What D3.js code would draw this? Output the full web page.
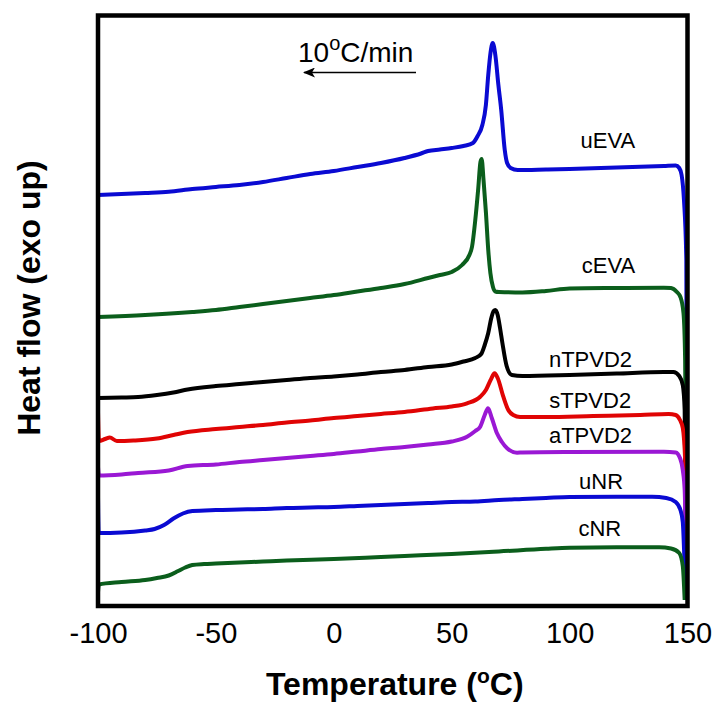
<!DOCTYPE html>
<html>
<head>
<meta charset="utf-8">
<script src="https://cdn.jsdelivr.net/npm/d3@7"></script>
<style>
  html, body { margin: 0; padding: 0; background: #fff; }
  svg text { font-family: "Liberation Sans", Arial, sans-serif; }
</style>
</head>
<body>
<div id="chart"></div>
<script>
// temperature ticks (deg C)
var xTicks = [-100, -50, 0, 50, 100, 150];

// heat flow curves, [temperature, heat flow (a.u., offset stacked)]
var uEVA = [[-100,41.1],[-80,41.3],[-70,41.43],[-60,41.7],[-50,41.9],[-40,42.1],[-30,42.4],[-20,42.8],[-10,43.2],[0,43.5],[10,43.9],[20,44.3],[30,44.8],[37,45.25],[40,45.5],[45,45.65],[50,45.8],[55,46.0],[59,46.3],[61,47.0],[63,48.1],[64.5,50.1],[65.5,53.1],[66.5,55.4],[67.4,56.3],[68.5,55.1],[69.8,52.1],[71,49.6],[72.5,45.6],[73.5,44.3],[75,43.8],[78,43.6],[90,43.65],[100,43.7],[120,43.85],[140,44.0],[145,44.05],[146.5,43.8],[147.5,43.1],[148.5,40.6],[149.5,34.6],[149.9,0.6]];
var cEVA = [[-100,28.9],[-80,29.1],[-60,29.4],[-50,29.6],[-40,29.9],[-30,30.2],[-20,30.5],[-10,30.8],[0,31.1],[10,31.45],[20,31.8],[30,32.2],[40,32.8],[45,33.1],[50,33.4],[54.4,34.1],[57.5,35.1],[58.6,35.9],[60,38.6],[61.2,41.6],[62.2,44.4],[62.7,44.7],[63.5,42.6],[64.5,39.4],[65.5,35.6],[66.4,33.3],[67.5,31.9],[68.5,31.45],[70,31.4],[80,31.35],[90,31.5],[100,31.75],[120,31.8],[140,31.83],[143,31.8],[145.5,31.4],[147,30.9],[148.3,29.3],[149,24.6],[149.8,0.6]];
var nTPVD2 = [[-100,20.8],[-90,20.85],[-83,20.9],[-75,21.1],[-68,21.35],[-62,21.65],[-50,22.0],[-40,22.2],[-30,22.4],[-20,22.6],[-10,22.8],[0,22.95],[10,23.15],[20,23.4],[30,23.6],[40,23.9],[50,24.15],[55,24.45],[60,24.8],[62.5,25.2],[64,26.1],[65.5,27.3],[66.8,28.8],[67.8,29.5],[68.5,29.6],[69.5,29.1],[70.5,27.8],[71.5,26.3],[73.3,24.0],[75.5,23.1],[80,23.0],[100,23.1],[120,23.25],[140,23.4],[144,23.4],[146.5,23.0],[148,22.1],[148.8,19.6],[149.5,0.6]];
var sTPVD2 = [[-100,19.4],[-99.6,16.5],[-97,16.7],[-95,16.85],[-92,16.5],[-85,16.55],[-75,16.75],[-68,17.1],[-62,17.4],[-50,17.7],[-40,17.9],[-30,18.1],[-20,18.35],[-10,18.55],[0,18.8],[10,19.0],[20,19.2],[30,19.4],[42,19.75],[50,19.95],[56.5,20.27],[62.1,20.93],[64.5,21.6],[66.5,22.6],[68.2,23.27],[69.5,22.8],[71.9,20.93],[74,19.6],[76.1,19.1],[79,18.9],[90,18.9],[110,19.0],[130,19.1],[142,19.2],[145,19.1],[146.8,18.6],[148,17.8],[149,14.6],[149.8,0.6]];
var aTPVD2 = [[-100,13.9],[-99.6,13.05],[-90,13.15],[-83,13.3],[-70,13.55],[-62,14.0],[-50,14.15],[-40,14.4],[-30,14.6],[-20,14.8],[-10,15.0],[0,15.2],[10,15.45],[20,15.7],[30,15.9],[40,16.15],[50,16.45],[56.5,16.93],[60,17.5],[62.1,17.93],[64,19.1],[65.4,19.77],[67,18.8],[69.2,17.27],[71.3,16.4],[73.5,15.77],[77.7,15.33],[80,15.35],[100,15.4],[140,15.43],[145,15.35],[146.8,14.8],[148,13.6],[148.8,11.6],[149.6,0.6]];
var uNR = [[-100,10.9],[-99.7,7.3],[-90,7.35],[-80,7.55],[-76,7.7],[-72,8.1],[-68,8.75],[-64,9.25],[-60,9.5],[-50,9.6],[-40,9.65],[-30,9.7],[-20,9.8],[-10,9.85],[0,9.9],[10,10.0],[20,10.1],[30,10.2],[40,10.3],[50,10.4],[60,10.45],[70,10.6],[80,10.7],[90,10.8],[100,10.9],[120,10.92],[135,10.92],[141,10.8],[145,10.4],[147,9.6],[148,8.4],[148.7,4.6],[149.3,0.6]];
var cNR = [[-100,1.4],[-99.6,2.15],[-90,2.4],[-80,2.6],[-75,2.8],[-70,3.05],[-66,3.5],[-63,3.85],[-60,4.1],[-55,4.2],[-50,4.25],[-40,4.35],[-30,4.45],[-20,4.55],[0,4.7],[20,4.9],[30,5.0],[50,5.2],[70,5.45],[90,5.72],[100,5.82],[120,5.87],[138,5.87],[143,5.75],[146.5,5.3],[148,4.0],[148.8,0.6]];

var series = [
  { name: "uEVA",   values: uEVA,   color: "#0a0ad2" },
  { name: "cEVA",   values: cEVA,   color: "#0b5e1c" },
  { name: "nTPVD2", values: nTPVD2, color: "#000000" },
  { name: "sTPVD2", values: sTPVD2, color: "#e00404" },
  { name: "aTPVD2", values: aTPVD2, color: "#9a18d4" },
  { name: "uNR",    values: uNR,    color: "#0a0ad2" },
  { name: "cNR",    values: cNR,    color: "#0b5e1c" }
];

// label anchors: text end temperature, baseline heat flow
var labelT = [127.8, 127.8, 126.5, 126.1, 126.5, 122.7, 121.9];
var labelV = [45.8, 33.3, 23.9, 19.8, 16.3, 11.7, 7.0];

var width = 715, height = 704;
var margin = { top: 15.5, right: 27.5, bottom: 98, left: 98 };
var w = width - margin.left - margin.right;
var h = height - margin.top - margin.bottom;

var svg = d3.select("#chart").append("svg")
    .attr("width", width).attr("height", height);
var g = svg.append("g")
    .attr("transform", "translate(" + margin.left + "," + margin.top + ")");

var x = d3.scaleLinear().domain([-100, 150]).range([0, w]);
var y = d3.scaleLinear().domain([0, 59.05]).range([h, 0]);

g.append("clipPath").attr("id", "plotclip")
  .append("rect").attr("width", w).attr("height", h);

var line = d3.line()
    .x(function (d) { return x(d[0]); })
    .y(function (d) { return y(d[1]); })
    .curve(d3.curveMonotoneX);

g.append("g").attr("clip-path", "url(#plotclip)")
  .selectAll("path").data(series).enter().append("path")
    .attr("d", function (d) { return line(d.values); })
    .attr("fill", "none")
    .attr("stroke", function (d) { return d.color; })
    .attr("stroke-width", 4)
    .attr("stroke-linejoin", "round");

// curve names
g.selectAll("text.lbl").data(series).enter().append("text")
    .attr("class", "lbl")
    .attr("x", function (d, i) { return x(labelT[i]); })
    .attr("y", function (d, i) { return y(labelV[i]); })
    .attr("text-anchor", "end")
    .style("font-size", "22px")
    .text(function (d) { return d.name; });

// x axis labels only (plain hyphen minus, like the original)
var axisX = d3.axisBottom(x).tickValues(xTicks).tickSize(0).tickPadding(16)
    .tickFormat(function (d) { return String(d); });
var ax = g.append("g").attr("transform", "translate(0," + h + ")").call(axisX);
ax.select(".domain").remove();
ax.selectAll("text")
    .style("font-family", "'Liberation Sans', Arial, sans-serif")
    .style("font-size", "29px")
    .attr("fill", "#000");

// frame
g.append("rect")
    .attr("width", w).attr("height", h)
    .attr("fill", "none").attr("stroke", "#000").attr("stroke-width", 4.5);

// axis titles
var xt = svg.append("text")
    .attr("x", margin.left + w / 2 + 2).attr("y", 695)
    .attr("text-anchor", "middle")
    .style("font-size", "32px").style("font-weight", "bold");
xt.append("tspan").text("Temperature (");
xt.append("tspan").attr("dy", -12).style("font-size", "21px").text("o");
xt.append("tspan").attr("dy", 12).text("C)");

svg.append("text")
    .attr("transform", "translate(40," + 298 + ") rotate(-90)")
    .attr("text-anchor", "middle")
    .style("font-size", "32px").style("font-weight", "bold")
    .text("Heat flow (exo up)");

// heating rate note with arrow
var rt = svg.append("text").attr("x", 298).attr("y", 62).style("font-size", "28px");
rt.append("tspan").text("10");
rt.append("tspan").attr("dy", -12).style("font-size", "20px").text("o");
rt.append("tspan").attr("dy", 12).text("C/min");

svg.append("defs").append("marker")
    .attr("id", "ah").attr("viewBox", "0 0 12 10")
    .attr("refX", 11).attr("refY", 5)
    .attr("markerWidth", 12).attr("markerHeight", 10)
    .attr("markerUnits", "userSpaceOnUse")
    .attr("orient", "auto")
  .append("path").attr("d", "M0,0 L12,5 L0,10 L3,5 Z").attr("fill", "#000");

svg.append("line")
    .attr("x1", 416).attr("y1", 72.5).attr("x2", 304).attr("y2", 72.5)
    .attr("stroke", "#000").attr("stroke-width", 1.3)
    .attr("marker-end", "url(#ah)");
</script>
</body>
</html>
